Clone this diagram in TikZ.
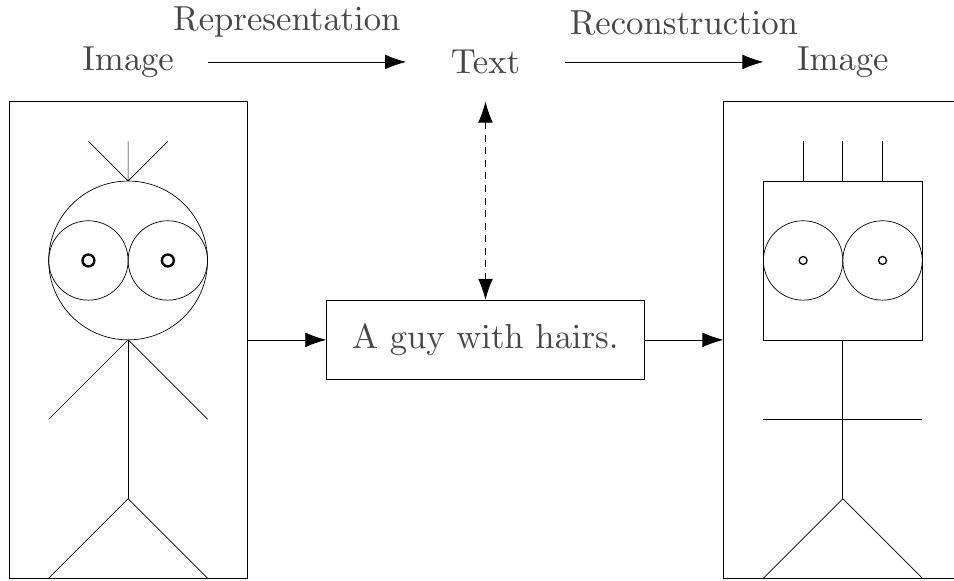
\documentclass[tikz,border=0pt]{standalone}
\usetikzlibrary{arrows.meta}
% large text set with the 10pt design size scaled up
\font\bigrm=cmr10 at 24.88pt
\begin{document}
\begin{tikzpicture}[
  line width=0.5pt,
  big/.style={font=\bigrm},
  tip/.style={-{Latex[length=15pt,width=10.5pt]}},
  label/.style={big, text=black!72, inner sep=0pt},
  frame/.style={draw, minimum width=6cm, minimum height=12cm, inner sep=0pt},
  caption/.style={draw, big, text=black!72, minimum width=8cm, minimum height=2cm, inner sep=0pt},
]
\useasboundingbox (-0.227,-0.05) rectangle (23.80,14.56);

% top row: Image -> Text -> Image
\node[label] (img1) at (3,13) {Image};
\node[label] (txt)  at (12,13) {Text};
\node[label] (img2) at (21,13) {Image};
\node[label] (rep)  at (7,14) {Representation};
\node[label] (rec)  at (17,14) {Reconstruction};
\coordinate (r1) at (5,13);  \coordinate (r2) at (10,13);
\coordinate (c1) at (14,13); \coordinate (c2) at (19,13);
\draw[tip] (r1) -- (r2);
\draw[tip] (c1) -- (c2);

% frames and caption box
\node[frame] (left)  at (3,6) {};
\node[frame] (right) at (21,6) {};
\node[caption] (cap) at (12,6) {A guy with hairs.};
\draw[tip] (left.east) -- (cap.west);
\draw[tip] (cap.east) -- (right.west);
\coordinate (tbot) at (12,12);
\draw[{Latex[length=15pt,width=10.5pt]}-{Latex[length=15pt,width=10.5pt]}, dash pattern=on 5pt off 4pt] (tbot) -- (cap.north);

% original stick figure
\draw (3,8) circle (2);
\draw (2,8) circle (1);
\draw (4,8) circle (1);
\draw[line width=1.7pt] (2,8) circle (0.15);
\draw[line width=1.7pt] (4,8) circle (0.15);
\draw (3,10) -- (2,11) (3,10) -- (3,11) (3,10) -- (4,11);
\draw (3,6) -- (3,2);
\draw (1,4) -- (3,6) -- (5,4);
\draw (1,0) -- (3,2) -- (5,0);

% reconstructed stick figure
\draw (19,6) rectangle (23,10);
\draw (20,8) circle (1);
\draw (22,8) circle (1);
\draw[line width=0.9pt] (20,8) circle (0.1);
\draw[line width=0.9pt] (22,8) circle (0.1);
\draw (20,10) -- (20,11) (21,10) -- (21,11) (22,10) -- (22,11);
\draw (21,6) -- (21,2);
\draw (19,4) -- (23,4);
\draw (19,0) -- (21,2) -- (23,0);
\end{tikzpicture}
\end{document}
